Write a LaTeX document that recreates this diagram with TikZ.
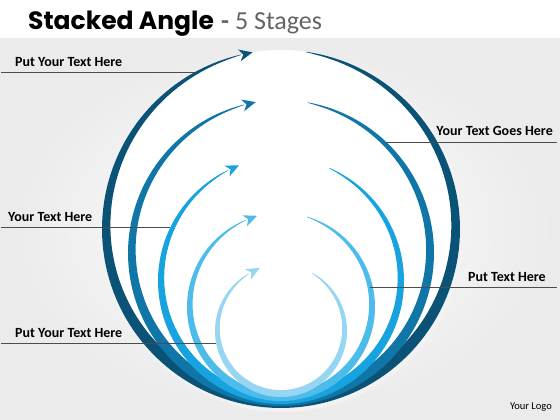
\documentclass[tikz,border=0pt]{standalone}
\usepackage{fontspec}
\setmainfont{Carlito}
\newfontfamily\titlefont{Poppins}
\definecolor{ringA}{RGB}{10,82,118}
\definecolor{ringB}{RGB}{16,118,168}
\definecolor{ringC}{RGB}{22,163,224}
\definecolor{ringD}{RGB}{78,188,235}
\definecolor{ringE}{RGB}{150,214,242}
\definecolor{titlegray}{RGB}{100,100,100}
\begin{document}
\begin{tikzpicture}[x=1pt,y=-1pt,
  lbl/.style={font=\bfseries\fontsize{14}{16}\selectfont, text=black, inner sep=0pt},
  leader/.style={draw=black!70, line width=0.6pt}]
\useasboundingbox (0,0) rectangle (560,420);
% background
\shade[inner color=white, outer color=black!8] (0,38) rectangle (560,420);
\fill[white] (0,0) rectangle (560,38);
% soft shadow and white interior
\fill[black!5] (283,231) circle (181);
\fill[white] (281,229) circle (179);
% rings
\foreach \cy/\R/\t/\a/\b/\col in {229/179/11/103/442/ringA, 253/153/10/104/440/ringB, 281/123/8.5/115.5/427/ringC, 307/94/7.5/112/434/ringD, 331/66/6.5/119/422/ringE}{
  \pgfmathsetmacro\k{180/(\b-\a)}
  \fill[\col] plot[domain=\a:\b, samples=150, variable=\p] ({281+\R*cos(\p)}, {\cy-\R*sin(\p)})
    -- plot[domain=\b:\a, samples=150, variable=\p]
      ({281+(\R-0.4-\t*sqrt(max(sin(\k*(\p-\a)),0)*sqrt(max(sin(\k*(\p-\a)),0))))*cos(\p)},
       {\cy-(\R-0.4-\t*sqrt(max(sin(\k*(\p-\a)),0)*sqrt(max(sin(\k*(\p-\a)),0))))*sin(\p)}) -- cycle;
  % arrowhead at the arc end
  \fill[\col]
    ({281+(\R-0.5)*cos(\a)+12*sin(\a)}, {\cy-(\R-0.5)*sin(\a)+12*cos(\a)})
    -- ({281+(\R-0.5)*cos(\a)-1.5*sin(\a)+6*cos(\a)}, {\cy-(\R-0.5)*sin(\a)-1.5*cos(\a)-6*sin(\a)})
    -- ({281+(\R-0.5)*cos(\a)+2.5*sin(\a)}, {\cy-(\R-0.5)*sin(\a)+2.5*cos(\a)})
    -- ({281+(\R-0.5)*cos(\a)-1.5*sin(\a)-6*cos(\a)}, {\cy-(\R-0.5)*sin(\a)-1.5*cos(\a)+6*sin(\a)})
    -- cycle;
}
% title
\node[anchor=base west, inner sep=0pt, font=\titlefont\bfseries\fontsize{25}{30}\selectfont] (title) at (28,30) {Stacked Angle};
\node[anchor=base west, inner sep=0pt, text=titlegray, font=\fontsize{26}{30}\selectfont] (subtitle) at (221,30) {\textbf{-} 5 Stages};
% labels and leaders
\node[lbl, anchor=west] (l1) at (15,62) {Put Your Text Here};
\coordinate (l1a) at (1,72); \coordinate (l1b) at (196,72);
\draw[leader] (l1a) -- (l1b);
\node[lbl, anchor=east] (r1) at (553,131) {Your Text Goes Here};
\coordinate (r1a) at (386,142); \coordinate (r1b) at (557,142);
\draw[leader] (r1a) -- (r1b);
\node[lbl, anchor=west] (l2) at (8,217) {Your Text Here};
\coordinate (l2a) at (1,227); \coordinate (l2b) at (170,227);
\draw[leader] (l2a) -- (l2b);
\node[lbl, anchor=east] (r2) at (546,277) {Put Text Here};
\coordinate (r2a) at (370,287); \coordinate (r2b) at (557,287);
\draw[leader] (r2a) -- (r2b);
\node[lbl, anchor=west] (l3) at (15,333) {Put Your Text Here};
\coordinate (l3a) at (1,343); \coordinate (l3b) at (216,343);
\draw[leader] (l3a) -- (l3b);
\node[anchor=east, inner sep=0pt, font=\fontsize{10.5}{12}\selectfont] (logo) at (552,407) {Your Logo};
\end{tikzpicture}
\end{document}
